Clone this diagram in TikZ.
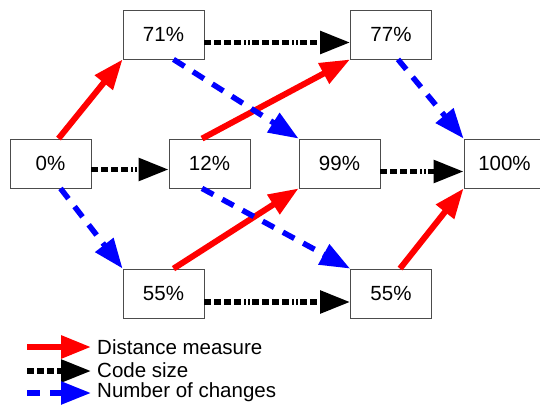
\documentclass[tikz,border=0pt]{standalone}
\usepackage{fontspec}
\setmainfont{Liberation Sans}
\usetikzlibrary{arrows.meta}
\begin{document}
\begin{tikzpicture}[x=1pt,y=-1pt,
  box/.style={draw=black!70,line width=0.8pt,fill=white,minimum width=81pt,minimum height=49pt,inner sep=0pt,font=\fontsize{20.5}{24}\selectfont},
  head/.style={-{Triangle[length=30pt,width=22pt]}},
  distarrow/.style={head,draw=red,line width=6pt},
  codearrow/.style={head,draw=black,line width=5.5pt,dash pattern=on 7pt off 3pt on 7pt off 3pt on 7pt off 3pt on 7pt off 3pt on 1.5pt off 2.5pt on 1.5pt off 2.5pt},
  chgarrow/.style={head,draw=blue,line width=5.5pt,dash pattern=on 13pt off 10pt},
  legtext/.style={anchor=west,inner sep=0pt,font=\fontsize{20.5}{24}\selectfont}]
\useasboundingbox (0,0) rectangle (540,404);
% nodes
\node[box] (n71) at (163.5,34.5) {71\%};
\node[box] (n0) at (50.5,163.5) {0\%};
\node[box] (n12) at (209.5,163.5) {12\%};
\node[box] (n77) at (391,34.5) {77\%};
\node[box] (n99) at (339.5,163.5) {99\%};
\node[box] (n100) at (504.5,163.5) {100\%};
\node[box] (n55a) at (163.5,293.5) {55\%};
\node[box] (n55b) at (391,293.5) {55\%};
% distance measure
\draw[distarrow] ([xshift=8pt]n0.north) -- (n71.south west);
\draw[distarrow] ([xshift=-7.5pt]n12.north) -- (n77.south west);
\draw[distarrow] ([xshift=10pt]n55a.north) -- (n99.south west);
\draw[distarrow] ([xshift=9pt]n55b.north) -- (n100.south west);
% code size
\draw[codearrow] ([yshift=-6pt]n0.east) -- ([yshift=-6pt]n12.west);
\draw[codearrow] ([yshift=-8pt]n71.east) -- ([yshift=-8pt]n77.west);
\draw[codearrow] ([yshift=-8pt]n99.east) -- ([yshift=-8pt]n100.west);
\draw[codearrow] ([yshift=-8.5pt]n55a.east) -- ([yshift=-8.5pt]n55b.west);
% number of changes
\draw[chgarrow] ([xshift=10pt]n0.south) -- (n55a.north west);
\draw[chgarrow] ([xshift=10pt]n71.south) -- (n99.north west);
\draw[chgarrow] ([xshift=7pt]n77.south) -- (n100.north west);
\draw[chgarrow] ([xshift=-7.5pt]n12.south) -- (n55b.north west);
% legend
\coordinate (l1a) at (27,347); \coordinate (l1b) at (91,347);
\coordinate (l2a) at (27,371); \coordinate (l2b) at (91,371);
\coordinate (l3a) at (27,393); \coordinate (l3b) at (91,393);
\draw[distarrow] (l1a) -- (l1b);
\draw[codearrow] (l2a) -- (l2b);
\draw[chgarrow] (l3a) -- (l3b);
\node[legtext] (t1) at (97,347) {Distance measure};
\node[legtext] (t2) at (97,370) {Code size};
\node[legtext] (t3) at (97,392) {Number of changes};
\end{tikzpicture}
\end{document}
